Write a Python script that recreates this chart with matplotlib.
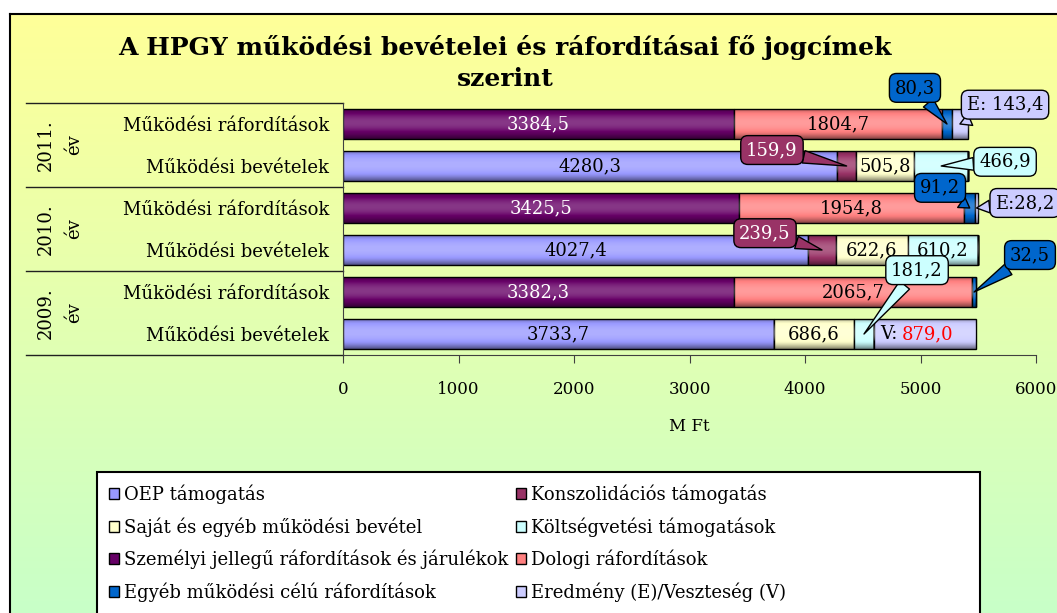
import numpy as np
import matplotlib.pyplot as plt
from matplotlib.patches import Patch, Rectangle
from matplotlib.lines import Line2D

# rows from bottom to top
rows = ['Működési bevételek', 'Működési ráfordítások',
        'Működési bevételek', 'Működési ráfordítások',
        'Működési bevételek', 'Működési ráfordítások']
years = ['2009.\név', '2010.\név', '2011.\név']

oep = [3733.7, 0, 4027.4, 0, 4280.3, 0]
konsz = [0, 0, 239.5, 0, 159.9, 0]
sajat = [686.6, 0, 622.6, 0, 505.8, 0]
koltsv = [181.2, 0, 610.2, 0, 466.9, 0]
szemelyi = [0, 3382.3, 0, 3425.5, 0, 3384.5]
dologi = [0, 2065.7, 0, 1954.8, 0, 1804.7]
egyeb = [0, 32.5, 0, 91.2, 0, 80.3]
eredmeny = [879.0, 0, 0, 28.2, 0, 143.4]

names = ['OEP támogatás', 'Konszolidációs támogatás',
         'Saját és egyéb működési bevétel', 'Költségvetési támogatások',
         'Személyi jellegű ráfordítások és járulékok', 'Dologi ráfordítások',
         'Egyéb működési célú ráfordítások', 'Eredmény (E)/Veszteség (V)']
series = [oep, konsz, sajat, koltsv, szemelyi, dologi, egyeb, eredmeny]
colors = ['#9999FF', '#993366', '#FFFFCC', '#CCFFFF',
          '#660066', '#FF8080', '#0066CC', '#CCCCFF']

plt.rcParams['font.family'] = 'DejaVu Serif'

W, H = 1057, 613
fig = plt.figure(figsize=(W / 100, H / 100), dpi=100)
fig.patch.set_facecolor('white')

# background gradient with frame
bg = fig.add_axes([10 / W, 0, 1 - 10 / W, 1 - 14 / H], zorder=-10)
top = np.array([255, 255, 153]) / 255
bot = np.array([200, 255, 200]) / 255
t = np.linspace(0, 1, 256)[:, None]
grad_bg = (top[None, :] * (1 - t) + bot[None, :] * t)[:, None, :]
bg.imshow(grad_bg, aspect='auto', extent=(0, 1, 0, 1))
bg.set_xlim(0, 1)
bg.set_ylim(0, 1)
bg.axis('off')
fig.add_artist(Line2D([10 / W, 10 / W], [0, 1 - 14 / H], color='black', lw=1.5, transform=fig.transFigure))
fig.add_artist(Line2D([10 / W, 1], [1 - 14 / H, 1 - 14 / H], color='black', lw=1.5, transform=fig.transFigure))

ax = fig.add_axes([343 / W, 1 - 355 / H, 693 / W, 252 / H])
ax.set_facecolor('none')

y = np.arange(len(rows))
left = np.zeros(len(rows))
bars = []
for s, c, n in zip(series, colors, names):
    b = ax.barh(y, s, left=left, height=0.7, color=c, edgecolor='black', linewidth=1, label=n, zorder=2)
    bars.append(b)
    left = left + np.array(s)

# shading on bars
tt = np.linspace(0, 1, 64)
d = np.abs(tt - 0.45) / 0.55
sv = 0.22 - 0.7 * d ** 2
shade = np.zeros((64, 1, 4))
shade[:, 0, :3] = np.where(sv > 0, 1.0, 0.0)[:, None]
shade[:, 0, 3] = np.abs(sv)
for b in bars:
    for p in b.patches:
        if p.get_width() <= 0:
            continue
        x0, y0, w, h = p.get_x(), p.get_y(), p.get_width(), p.get_height()
        im = ax.imshow(shade, extent=(x0, x0 + w, y0, y0 + h), aspect='auto', zorder=2.1, interpolation='bilinear')
        im.set_clip_path(p)


def fmt(v):
    return f'{v:.1f}'.replace('.', ',')


# labels inside bars
def inside(idx, color='black'):
    for p, v in zip(bars[idx].patches, series[idx]):
        if v > 0:
            ax.text(p.get_x() + p.get_width() / 2, p.get_y() + p.get_height() / 2, fmt(v),
                    ha='center', va='center', fontsize=13, color=color, zorder=5)


inside(0)
inside(4, 'white')
inside(5)
inside(2)
p = bars[3].patches[2]
ax.text(p.get_x() + p.get_width() / 2, 2, fmt(koltsv[2]), ha='center', va='center', fontsize=13, zorder=5)
ax.text(4800, 0, 'V:', ha='right', va='center', fontsize=13, zorder=5)
ax.text(4835, 0, fmt(eredmeny[0]), ha='left', va='center', fontsize=13, color='red', zorder=5)

# callouts: (series index, row, box x, box y, prefix, text colour)
callouts = [
    (6, 5, 4952, 5.86, '', 'black'),
    (7, 5, 5732, 5.46, 'E: ', 'black'),
    (1, 4, 3714, 4.38, '', 'white'),
    (3, 4, 5732, 4.10, '', 'black'),
    (6, 3, 5169, 3.48, '', 'black'),
    (7, 3, 5905, 3.12, 'E:', 'black'),
    (1, 2, 3654, 2.40, '', 'white'),
    (6, 1, 5948, 1.88, '', 'black'),
    (3, 0, 4970, 1.52, '', 'black'),
]
for si, r, bx, by, pre, tc in callouts:
    p = bars[si].patches[r]
    tx = p.get_x() + p.get_width() * 0.5
    ax.annotate(pre + fmt(series[si][r]), xy=(tx, r), xytext=(bx, by),
                ha='center', va='center', fontsize=13, color=tc, zorder=6,
                annotation_clip=False,
                bbox=dict(boxstyle='round,pad=0.3,rounding_size=0.4', fc=colors[si], ec='black', lw=1),
                arrowprops=dict(arrowstyle='wedge,tail_width=0.7,shrink_factor=0.5', fc=colors[si], ec='black', lw=1,
                                shrinkA=0, shrinkB=0))

ax.set_xlim(0, 6000)
ax.set_ylim(-0.5, 5.5)
ax.set_xticks(np.arange(0, 6001, 1000))
ax.tick_params(axis='x', direction='out', length=6, pad=13, labelsize=12, color='#404040')
ax.set_yticks(y)
ax.set_yticklabels(rows, fontsize=13)
ax.tick_params(axis='y', length=0, pad=10)
ax.set_xlabel('M Ft', fontsize=12, labelpad=14)
for sp in ['top', 'right']:
    ax.spines[sp].set_visible(False)
ax.spines['left'].set_color('#404040')
ax.spines['bottom'].set_color('#404040')

# category separators and year labels
xl = (26 - 343) / 693
for yy in [-0.5, 1.5, 3.5, 5.5]:
    ax.add_line(Line2D([xl, 0], [yy, yy], transform=ax.get_yaxis_transform(), color='#202020', lw=1, clip_on=False))
for i, yr in enumerate(years):
    ax.text((60 - 343) / 693, 2 * i + 0.5, yr, transform=ax.get_yaxis_transform(), rotation=90,
            ha='center', va='center', multialignment='center', fontsize=13, linespacing=1.8)

fig.text(505 / W, 1 - 63 / H, 'A HPGY működési bevételei és ráfordításai fő jogcímek\nszerint',
         ha='center', va='center', fontsize=18, fontweight='bold', linespacing=1.35)

# legend
fig.add_artist(Rectangle((97 / W, -0.01), (980 - 97) / W, (1 - 472 / H) + 0.01,
                         transform=fig.transFigure, fc='white', ec='black', lw=1.5, zorder=1))
order = [0, 2, 4, 6, 1, 3, 5, 7]
handles = [Patch(fc=colors[i], ec='black', lw=1) for i in order]
leg = fig.legend(handles, [names[i] for i in order], ncol=2, loc='upper left',
                 bbox_to_anchor=(96 / W, 1 - 472 / H), frameon=False, fontsize=13,
                 handlelength=0.55, handleheight=0.55, handletextpad=0.3, columnspacing=0.4,
                 labelspacing=0.72, borderpad=0.2)
leg.set_zorder(2)

fig.savefig('out.png', dpi=100)
